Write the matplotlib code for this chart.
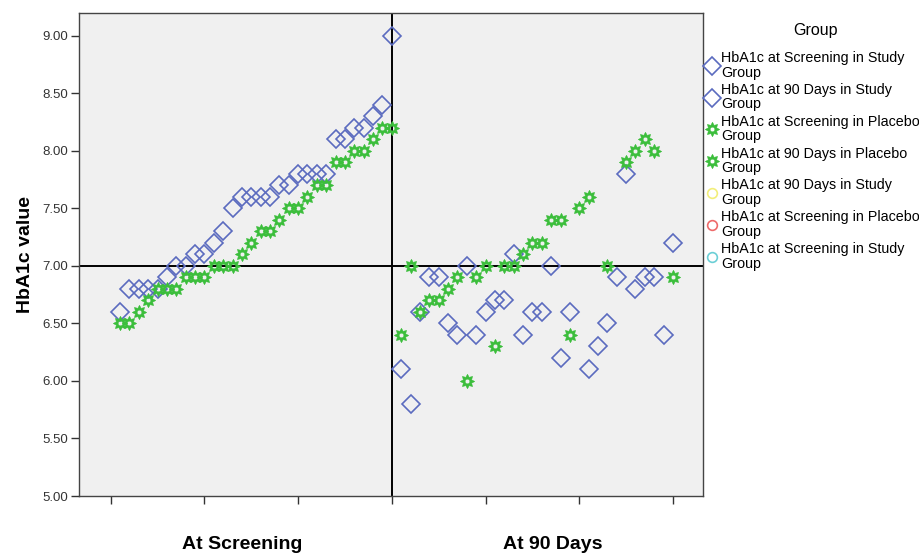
import numpy as np
import matplotlib
matplotlib.use("Agg")
import matplotlib.pyplot as plt
from matplotlib.path import Path
from matplotlib.transforms import blended_transform_factory

plt.rcParams['font.family'] = ['Liberation Sans', 'DejaVu Sans']

# ---------------- data ----------------
x_screening = list(range(1, 31))
study_screening = [6.6, 6.8, 6.8, 6.8, 6.8, 6.9, 7.0, 7.0, 7.1, 7.1,
                   7.2, 7.3, 7.5, 7.6, 7.6, 7.6, 7.6, 7.7, 7.7, 7.8,
                   7.8, 7.8, 7.8, 8.1, 8.1, 8.2, 8.2, 8.3, 8.4, 9.0]
placebo_screening = [6.5, 6.5, 6.6, 6.7, 6.8, 6.8, 6.8, 6.9, 6.9, 6.9,
                     7.0, 7.0, 7.0, 7.1, 7.2, 7.3, 7.3, 7.4, 7.5, 7.5,
                     7.6, 7.7, 7.7, 7.9, 7.9, 8.0, 8.0, 8.1, 8.2, 8.2]

x_study_90 = [31, 32, 33, 34, 35, 36, 37, 38, 39, 40, 41, 42, 43, 44, 45,
              46, 47, 48, 49, 51, 52, 53, 54, 55, 56, 57, 58, 59, 60]
study_90 = [6.1, 5.8, 6.6, 6.9, 6.9, 6.5, 6.4, 7.0, 6.4, 6.6, 6.7, 6.7, 7.1, 6.4, 6.6,
            6.6, 7.0, 6.2, 6.6, 6.1, 6.3, 6.5, 6.9, 7.8, 6.8, 6.9, 6.9, 6.4, 7.2]

x_placebo_90 = [31, 32, 33, 34, 35, 36, 37, 38, 39, 40, 41, 42, 43, 44,
                45, 46, 47, 48, 49, 50, 51, 53, 55, 56, 57, 58, 60]
placebo_90 = [6.4, 7.0, 6.6, 6.7, 6.7, 6.8, 6.9, 6.0, 6.9, 7.0, 6.3, 7.0, 7.0, 7.1,
              7.2, 7.2, 7.4, 7.4, 6.4, 7.5, 7.6, 7.0, 7.9, 8.0, 8.1, 8.0, 6.9]

y_ticks = [5.0, 5.5, 6.0, 6.5, 7.0, 7.5, 8.0, 8.5, 9.0]
x_ticks = [0, 10, 20, 30, 40, 50, 60]
phase_labels = ["At Screening", "At 90 Days"]
phase_label_x = [14.0, 47.2]
divider_x = 30
reference_y = 7.0

legend_title = "Group"
labels = ["HbA1c at Screening in Study\nGroup",
          "HbA1c at 90 Days in Study\nGroup",
          "HbA1c at Screening in Placebo\nGroup",
          "HbA1c at 90 Days in Placebo\nGroup",
          "HbA1c at 90 Days in Study\nGroup",
          "HbA1c at Screening in Placebo\nGroup",
          "HbA1c at Screening in Study\nGroup"]

# ---------------- star (gear) marker ----------------
def gear_marker(n=8, r_out=1.0, r_in=0.62, r_hole=0.32):
    ang = np.arange(2 * n) * np.pi / n + np.pi / 2
    rad = np.where(np.arange(2 * n) % 2 == 0, r_out, r_in)
    outer = np.column_stack([rad * np.cos(ang), rad * np.sin(ang)])
    hang = np.linspace(0, 2 * np.pi, 17)[:-1][::-1]
    hole = np.column_stack([r_hole * np.cos(hang), r_hole * np.sin(hang)])
    verts = np.vstack([outer, outer[:1], hole, hole[:1]])
    codes = ([Path.MOVETO] + [Path.LINETO] * (len(outer) - 1) + [Path.CLOSEPOLY] +
             [Path.MOVETO] + [Path.LINETO] * (len(hole) - 1) + [Path.CLOSEPOLY])
    return Path(verts, codes)

star = gear_marker()

blue = '#5B6BBF'
green = '#3CBE3C'

fig = plt.figure(figsize=(9.2, 5.55), dpi=100)
ax = fig.add_axes([0.0862, 0.1063, 0.6779, 0.8708])
ax.set_facecolor('#F0F0F0')

ax.axvline(divider_x, color='black', lw=1.4, zorder=1)
ax.axhline(reference_y, color='black', lw=1.4, zorder=1)

dkw = dict(linestyle='none', marker='D', markersize=9.2, markerfacecolor='none',
           markeredgecolor=blue, markeredgewidth=1.2, zorder=3)
skw = dict(linestyle='none', marker=star, markersize=10.5, markerfacecolor=green,
           markeredgecolor=green, markeredgewidth=0.3, zorder=4)

h1, = ax.plot(x_screening, study_screening, label=labels[0], **dkw)
h2, = ax.plot(x_study_90, study_90, label=labels[1], **dkw)
h3, = ax.plot(x_screening, placebo_screening, label=labels[2], **skw)
h4, = ax.plot(x_placebo_90, placebo_90, label=labels[3], **skw)
ckw = dict(linestyle='none', marker='o', markersize=7, markerfacecolor='none',
           markeredgewidth=1.2)
h5, = ax.plot([], [], markeredgecolor='#F2EE7A', label=labels[4], **ckw)
h6, = ax.plot([], [], markeredgecolor='#EE6A6A', label=labels[5], **ckw)
h7, = ax.plot([], [], markeredgecolor='#6CCFD6', label=labels[6], **ckw)

ax.set_xlim(-3.35, 63.2)
ax.set_ylim(5.0, 9.2)
ax.set_yticks(y_ticks)
ax.set_yticklabels([f"{v:.2f}" for v in y_ticks], fontsize=9.5, color='#333333')
ax.set_xticks(x_ticks)
ax.set_xticklabels([])
ax.tick_params(axis='both', direction='out', length=6, width=1, color='#333333', pad=2)
for s in ax.spines.values():
    s.set_color('#444444')
    s.set_linewidth(1.0)

ax.set_ylabel("HbA1c value", fontsize=14, fontweight='bold')
ax.yaxis.set_label_coords(-0.073, 0.5)

trans = blended_transform_factory(ax.transData, ax.transAxes)
for lx, lab in zip(phase_label_x, phase_labels):
    ax.text(lx, -0.110, lab, transform=trans, ha='center', va='baseline',
            fontsize=14, fontweight='bold')

leg = ax.legend(handles=[h1, h2, h3, h4, h5, h6, h7], loc='upper left',
                bbox_to_anchor=(704.5 / 920, 1 - 51.0 / 555), bbox_transform=fig.transFigure,
                frameon=False, fontsize=10.3,
                handlelength=1.0, handletextpad=0.15, labelspacing=0.23,
                borderpad=0, borderaxespad=0, numpoints=1)
for t in leg.get_texts():
    t.set_linespacing(1.05)

fig.text(815 / 920, 1 - 31 / 555, legend_title, ha='center', va='center', fontsize=11.5)

fig.savefig("out.png", dpi=100)
